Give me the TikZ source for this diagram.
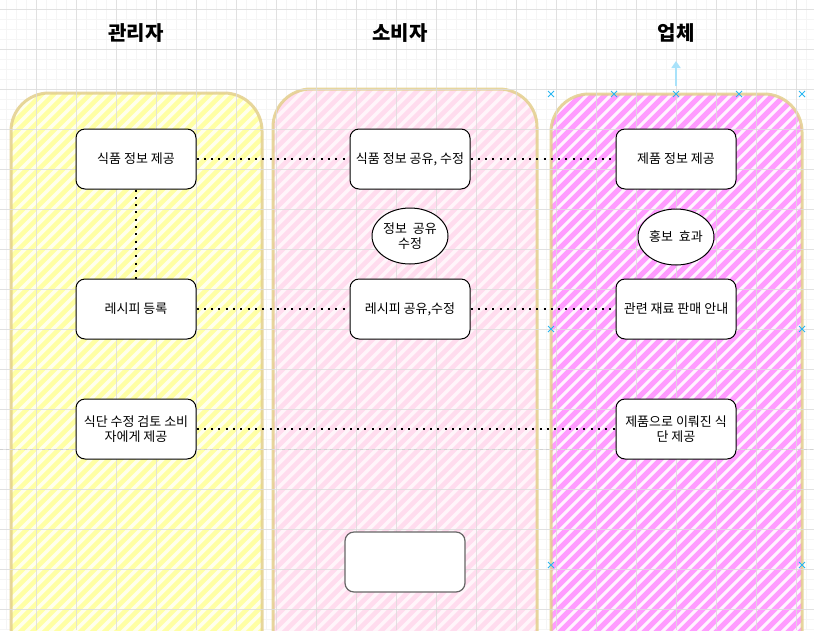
\documentclass[tikz,border=0pt]{standalone}
\usepackage{fontspec}
\setmainfont{Noto Sans CJK KR}
\usetikzlibrary{shapes.geometric,shapes.misc,arrows.meta}

\definecolor{laneyellow}{HTML}{FFFFA4}
\definecolor{laneyellowbg}{HTML}{FFFFEC}
\definecolor{lanepink}{HTML}{FFDCEE}
\definecolor{lanepinkbg}{HTML}{FFF5FA}
\definecolor{lanemagenta}{HTML}{FF9CFF}
\definecolor{lanemagentabg}{HTML}{FFF4FF}
\definecolor{laneborder}{HTML}{E3CF8C}
\definecolor{handleblue}{HTML}{29B6F2}
\definecolor{gridgray}{HTML}{DCDCDC}

\begin{document}
\begin{tikzpicture}[x=1pt,y=-1pt,node distance=150pt,
  main node/.style={rectangle,rounded corners=9pt,draw,fill=white,line width=1pt,
    font=\fontsize{13}{15.5}\selectfont,minimum height=60pt,minimum width=120pt,
    align=center,inner sep=1pt},
  oval node/.style={ellipse,draw,fill=white,line width=1pt,
    font=\fontsize{13}{15.5}\selectfont,minimum height=56pt,minimum width=76pt,
    align=center,inner sep=0pt},
  lane title/.style={font=\fontsize{20}{24}\selectfont\bfseries},
  dotted link/.style={line width=2pt,dash pattern=on 2pt off 5.3pt},
  handle/.style={cross out,draw=handleblue,line width=1pt,minimum size=5pt,inner sep=0pt}]

  \clip (0,0) rectangle (814,630);
  \fill[white] (0,0) rectangle (814,630);

  %% fine grid
  \foreach \x in {6,16,...,806} \draw[gridgray!30,line width=0.5pt] (\x,0) -- (\x,630);
  \foreach \y in {9,19,...,629} \draw[gridgray!30,line width=0.5pt] (0,\y) -- (814,\y);

  %% hatched lanes
  \foreach \l/\r/\t/\stripe/\back/\w in {11/262/93/laneyellow/laneyellowbg/4.6,
      273/537/89/lanepink/lanepinkbg/4.6,551/802/94/lanemagenta/lanemagentabg/5.2} {
    \begin{scope}
      \clip[rounded corners=38pt] (\l,700) -- (\l,\t) -- (\r,\t) -- (\r,700) -- cycle;
      \fill[\back] (\l,\t) rectangle (\r,700);
      \foreach \a in {-708,-696,...,816}
        \draw[\stripe,line width=\w pt] (\a,700) -- ++(700,-700);
    \end{scope}
    \draw[laneborder,line width=3pt,rounded corners=38pt,opacity=0.85]
      (\l,700) -- (\l,\t) -- (\r,\t) -- (\r,700);
  }

  %% main grid
  \foreach \x in {36,76,...,796} \draw[gridgray,line width=0.8pt,opacity=0.8] (\x,0) -- (\x,630);
  \foreach \y in {9,49,...,609} \draw[gridgray,line width=0.8pt,opacity=0.8] (0,\y) -- (814,\y);
  \draw[gray!35,dashed,line width=0.6pt] (0,449) -- (814,449);

  %% lane titles
  \node[lane title] (Admin) at (136,33) {관리자};
  \node[lane title] (Consumer) at (400,33) {소비자};
  \node[lane title] (Company) at (676,33) {업체};

  %% selection marks
  \coordinate (tail) at (676,86);
  \coordinate (tip) at (676,61);
  \draw[handleblue!40,line width=2.5pt,-{Triangle[width=9pt,length=7pt]}] (tail) -- (tip);
  \foreach \hx/\hy [count=\i] in {551/94,614/94,676/94,739/94,802/94,
      551/329,802/329,551/565,802/565}
    \node[handle] (handle\i) at (\hx,\hy) {};

  %% boxes
  \node[main node] (FoodInfo) at (136,159) {식품 정보 제공};
  \node[main node] (Recipe) [below of=FoodInfo] {레시피 등록};
  \node[main node] (Diet) [node distance=120pt, below of=Recipe] {식단 수정 검토 소비\\자에게 제공};
  \node[main node] (FoodShare) [node distance=274pt, right of=FoodInfo] {식품 정보 공유, 수정};
  \node[oval node] (InfoShare) [node distance=77pt, below of=FoodShare] {정보\ \ 공유\\수정};
  \node[main node] (RecipeShare) [node distance=274pt, right of=Recipe] {레시피 공유,수정};
  \node[main node, draw=black!60, line width=1.2pt] (Blank) at (405,562) {};
  \node[main node] (ProductInfo) [node distance=266pt, right of=FoodShare] {제품 정보 제공};
  \node[oval node] (Promo) [node distance=78pt, below of=ProductInfo] {홍보\ \ 효과};
  \node[main node] (Sales) [node distance=266pt, right of=RecipeShare] {관련 재료 판매 안내};
  \node[main node] (ProductDiet) [node distance=540pt, right of=Diet] {제품으로 이뤄진 식\\단 제공};

  \path[dotted link]
    (FoodInfo) edge (FoodShare)
    (FoodShare) edge (ProductInfo)
    (FoodInfo) edge (Recipe)
    (Recipe) edge (RecipeShare)
    (RecipeShare) edge (Sales)
    (Diet) edge (ProductDiet)
    ;
\end{tikzpicture}
\end{document}
